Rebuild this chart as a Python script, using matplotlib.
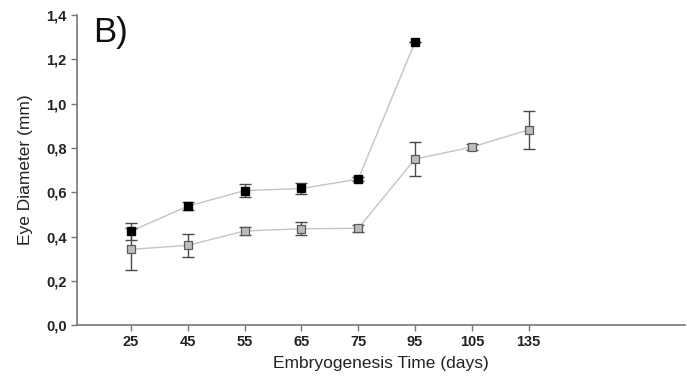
import numpy as np
import matplotlib.pyplot as plt

plt.rcParams['font.family'] = ['Liberation Sans', 'DejaVu Sans']

# data
days = ['25', '45', '55', '65', '75', '95', '105', '135']

black_mean = [0.424, 0.537, 0.607, 0.617, 0.659, 1.279]
black_err = [0.038, 0.018, 0.030, 0.026, 0.010, 0.0]

gray_mean = [0.342, 0.360, 0.425, 0.435, 0.437, 0.750, 0.804, 0.882]
gray_err = [0.095, 0.052, 0.020, 0.030, 0.015, 0.077, 0.015, 0.087]

pos = np.arange(1, len(days) + 1)

fig = plt.figure(figsize=(6.87, 3.78), dpi=100)
ax = fig.add_axes([0.112, 0.140, 0.885, 0.820])

line_kw = dict(color='#c4c4c4', lw=1.0, zorder=1)
ax.plot(pos[:len(black_mean)], black_mean, **line_kw)
ax.plot(pos, gray_mean, **line_kw)

err_kw = dict(fmt='none', ecolor='#4a4a4a', elinewidth=1.0, capsize=4, capthick=1.0, zorder=2)
ax.errorbar(pos, gray_mean, yerr=gray_err, **err_kw)
ax.errorbar(pos[:len(black_mean)], black_mean, yerr=black_err, **err_kw)

ax.plot(pos, gray_mean, 's', ms=6.3, mfc='#bdbdbd', mec='#5a5a5a', mew=0.9, ls='none', zorder=3)
ax.plot(pos[:len(black_mean)], black_mean, 's', ms=6.3, mfc='black', mec='black', ls='none', zorder=4)

ax.set_xlim(0.05, 10.75)
ax.set_ylim(0, 1.4)
ax.set_xticks(pos)
ax.set_xticklabels(days)
yt = np.arange(0, 1.41, 0.2)
ax.set_yticks(yt)
ax.set_yticklabels([f'{v:.1f}'.replace('.', ',') for v in yt])

for lab in ax.get_xticklabels() + ax.get_yticklabels():
    lab.set_fontweight('bold')
    lab.set_fontsize(10.5)
    lab.set_color('#222222')

ax.spines['top'].set_visible(False)
ax.spines['right'].set_visible(False)
for s in ['left', 'bottom']:
    ax.spines[s].set_color('#777777')
    ax.spines[s].set_linewidth(1.2)
ax.tick_params(direction='out', length=4, color='#777777', width=1.0)

ax.set_xlabel('Embryogenesis Time (days)', fontsize=12.5, color='#222222', labelpad=5)
ax.set_ylabel('Eye Diameter (mm)', fontsize=12.5, color='#222222', labelpad=9)

ax.text(0.33, 1.395, 'B)', fontsize=25, va='top', ha='left', color='#111111')

fig.savefig('out.png', dpi=100)
